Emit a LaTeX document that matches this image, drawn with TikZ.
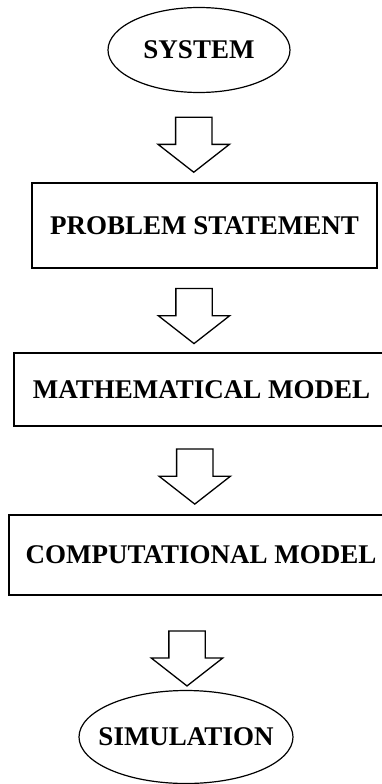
\documentclass[tikz,border=0pt]{standalone}
\usepackage{fontspec}
\setmainfont{Liberation Serif}
\usetikzlibrary{shapes.geometric,shapes.arrows,calc}
\tikzset{
  stagebox/.style={draw, line width=1.6pt, align=center, inner sep=0pt,
    font=\fontsize{27}{31}\selectfont\bfseries},
  stageoval/.style={draw, ellipse, line width=1.2pt, inner sep=0pt,
    font=\fontsize{27}{31}\selectfont\bfseries},
  stagearrow/.style={draw, line width=1.3pt, single arrow, rotate=-90,
    inner xsep=0pt, inner ysep=17.5pt, minimum height=55pt,
    single arrow head extend=17.5pt, single arrow tip angle=104}
}

\begin{document}
\begin{tikzpicture}[x=1pt, y=-1pt]
    \useasboundingbox (0,0) rectangle (382,784);
    \clip (0,0) rectangle (382,784);
    \node[stageoval, minimum width=182pt, minimum height=85pt] (system) at (199,50) {SYSTEM};
    \node[stagebox, minimum width=345pt, minimum height=85pt] (problem) at (204.5,225.5) {PROBLEM STATEMENT};
    \node[stagebox, minimum width=375pt, minimum height=73pt] (math) at (201.5,389.5) {MATHEMATICAL MODEL};
    \node[stagebox, minimum width=384pt, minimum height=80pt] (comp) at (201,555) {COMPUTATIONAL MODEL};
    \node[stageoval, inner xsep=-14pt, minimum width=214pt, minimum height=93pt] (sim) at (186,737) {SIMULATION};
    % block arrows between the stages
    \node[stagearrow] (a1) at ($(system.south)!0.5!(problem.north)+(-8,0)$) {};
    \node[stagearrow] (a2) at ($(problem.south)!0.5!(math.north)+(-9,-1.5)$) {};
    \node[stagearrow] (a3) at ($(math.south)!0.5!(comp.north)+(-6.5,-1)$) {};
    \node[stagearrow] (a4) at ($(comp.south)!0.5!(sim.north)+(-6.5,8.5)$) {};
\end{tikzpicture}
\end{document}
